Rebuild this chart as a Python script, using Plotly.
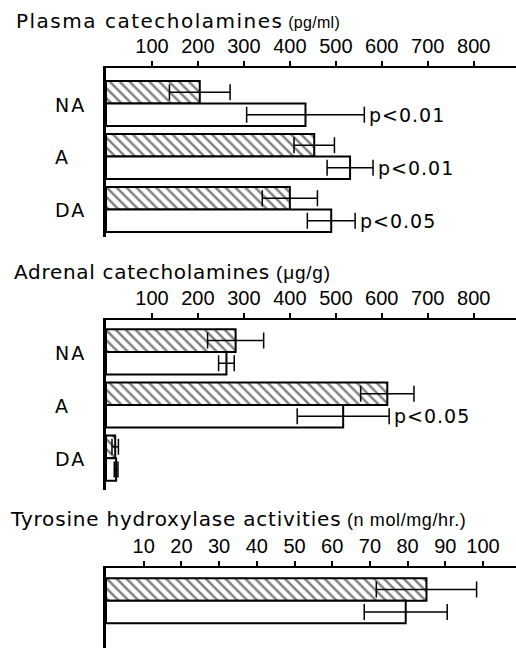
import plotly.graph_objects as go

# ---- data ----
plasma_cats = ["NA", "A", "DA"]
plasma_hatched = [204, 453, 400]
plasma_hatched_se = [66, 44, 60]
plasma_white = [434, 531, 490]
plasma_white_se = [128, 50, 52]
plasma_p = ["p<0.01", "p<0.01", "p<0.05"]

adrenal_cats = ["NA", "A", "DA"]
adrenal_hatched = [282, 612, 20]
adrenal_hatched_se = [61, 58, 7]
adrenal_white = [262, 516, 22]
adrenal_white_se = [17, 100, 4]
adrenal_p = ["", "p<0.05", ""]

th_cats = ["TH"]
th_hatched = [85]
th_hatched_se = [13.3]
th_white = [79.5]
th_white_se = [11]

cat_ticks = [100, 200, 300, 400, 500, 600, 700, 800]
th_ticks = [10, 20, 30, 40, 50, 60, 70, 80, 90, 100]

titles = [
    ("Plasma catecholamines", "(pg/ml)"),
    ("Adrenal catecholamines", "(\u03bcg/g)"),
    ("Tyrosine hydroxylase activities", "(n mol/mg/hr.)"),
]

W, H = 516, 648
ML = 106
PW = W - ML

panels = [
    dict(cats=plasma_cats, h=plasma_hatched, hse=plasma_hatched_se, w=plasma_white,
         wse=plasma_white_se, p=plasma_p, ticks=cat_ticks, xmax=892,
         ytop=68, ybot=237, yr=[2.52, -0.67], title_y=21, title_x=14, labels=True,
         tsp=1.5, usz=16, usp=0.3),
    dict(cats=adrenal_cats, h=adrenal_hatched, hse=adrenal_hatched_se, w=adrenal_white,
         wse=adrenal_white_se, p=adrenal_p, ticks=cat_ticks, xmax=892,
         ytop=320, ybot=490, yr=[2.6, -0.6], title_y=272, title_x=12, labels=True,
         tsp=0.7, usz=19, usp=0.8),
    dict(cats=th_cats, h=th_hatched, hse=th_hatched_se, w=th_white,
         wse=th_white_se, p=[""], ticks=th_ticks, xmax=108.75,
         ytop=568, ybot=648, yr=[0.89, -0.62], title_y=519, title_x=8, labels=False,
         tsp=0.8, usz=18, usp=0.6),
]

BARGAP = 0.15
fig = go.Figure()
annotations = []
tickfont = dict(family="Liberation Sans, Arial, sans-serif", size=20, color="black")
labfont = dict(family="DejaVu Sans, sans-serif", size=19, color="black")

for i, pn in enumerate(panels):
    sfx = "" if i == 0 else str(i + 1)
    xa, ya = "x" + sfx, "y" + sfx
    err = dict(type="data", visible=True, color="black", thickness=1.5, width=8)
    fig.add_trace(go.Bar(
        y=pn["cats"], x=pn["h"], orientation="h", xaxis=xa, yaxis=ya,
        error_x=dict(err, array=pn["hse"]),
        marker=dict(color="white", line=dict(color="black", width=2),
                    pattern=dict(shape="\\", fgcolor="black", bgcolor="white",
                                 size=7, solidity=0.35)),
        showlegend=False, offsetgroup="h"))
    fig.add_trace(go.Bar(
        y=pn["cats"], x=pn["w"], orientation="h", xaxis=xa, yaxis=ya,
        error_x=dict(err, array=pn["wse"]),
        marker=dict(color="white", line=dict(color="black", width=2)),
        showlegend=False, offsetgroup="w"))

    dom = [1 - pn["ybot"] / H, 1 - pn["ytop"] / H]
    fig.layout["xaxis" + sfx] = dict(
        domain=[0, 1], anchor=ya, side="top", range=[0, pn["xmax"]],
        tickvals=pn["ticks"], ticks="outside", ticklen=5, tickwidth=1.5,
        tickcolor="black", showline=True, linecolor="black", linewidth=1.5,
        showgrid=False, zeroline=False, tickfont=tickfont, fixedrange=True)
    fig.layout["yaxis" + sfx] = dict(
        domain=dom, anchor=xa, type="category", range=pn["yr"],
        showline=True, linecolor="black", linewidth=2.5, showticklabels=False,
        ticks="", showgrid=False, zeroline=False, fixedrange=True)

    t, u = titles[i]
    annotations.append(dict(
        xref="paper", yref="paper", x=(pn["title_x"] - ML) / PW, y=1 - pn["title_y"] / H,
        xanchor="left", yanchor="middle", showarrow=False,
        text=('<span style="letter-spacing:%spx">' % pn["tsp"] + t + '</span>'
              '<span style="font-family:Liberation Sans Narrow, Liberation Sans; '
              'font-size:%dpx; letter-spacing:%spx"> ' % (pn["usz"], pn["usp"])
              + u + '</span>'),
        font=dict(family="DejaVu Sans, sans-serif", size=20, color="black")))

    if pn["labels"]:
        for j, c in enumerate(pn["cats"]):
            annotations.append(dict(
                xref="paper", yref=ya, x=(53 - ML) / PW, y=j, xanchor="left",
                yanchor="middle", showarrow=False, yshift=-1,
                text='<span style="letter-spacing:2px">' + c + '</span>', font=labfont))
    half = (1 - BARGAP) / 4
    for j, ptxt in enumerate(pn["p"]):
        if ptxt:
            annotations.append(dict(
                xref=xa, yref=ya, x=pn["w"][j] + pn["wse"][j], y=j + half,
                xanchor="left", yanchor="middle", xshift=3, showarrow=False,
                text='<span style="letter-spacing:1px">' + ptxt.replace("<", "&lt;") + '</span>',
                font=dict(family="DejaVu Sans, sans-serif", size=19, color="black")))

fig.update_layout(
    width=W, height=H, margin=dict(l=ML, r=0, t=0, b=0),
    barmode="group", bargap=BARGAP, bargroupgap=0,
    plot_bgcolor="white", paper_bgcolor="white",
    annotations=annotations, showlegend=False)

fig.write_html("out.html", config={"displayModeBar": False},
               post_script="document.body.style.margin='0px';document.body.style.overflow='hidden';")
